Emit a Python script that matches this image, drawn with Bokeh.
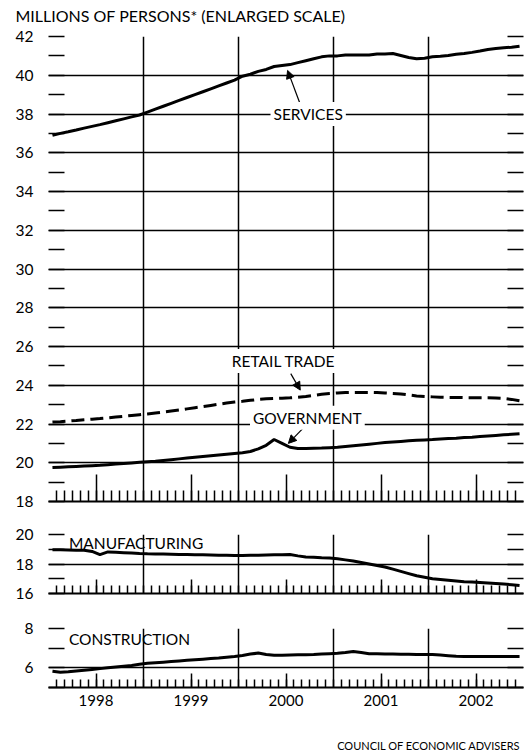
from bokeh.plotting import figure
from bokeh.layouts import column
from bokeh.models import (FixedTicker, LinearAxis, Range1d, Label, Arrow,
                          NormalHead, Grid)
from bokeh.embed import file_html
from bokeh.resources import INLINE

# ---------------- data (monthly, Jan 1998 - Dec 2002, millions of persons) -------------
years = ["1998", "1999", "2000", "2001", "2002"]

services = [36.90, 37.00, 37.08, 37.17, 37.27, 37.36, 37.45, 37.55, 37.65, 37.75, 37.85, 37.95,
            38.10, 38.25, 38.40, 38.55, 38.70, 38.85, 39.00, 39.15, 39.30, 39.45, 39.60, 39.75,
            39.95, 40.05, 40.20, 40.30, 40.45, 40.50, 40.55, 40.65, 40.75, 40.85, 40.95, 41.00,
            41.00, 41.05, 41.05, 41.05, 41.05, 41.10, 41.10, 41.12, 41.02, 40.92, 40.85, 40.88,
            40.95, 40.98, 41.02, 41.08, 41.12, 41.18, 41.25, 41.33, 41.38, 41.42, 41.45, 41.50]

retail_trade = [22.10, 22.12, 22.15, 22.18, 22.22, 22.25, 22.28, 22.32, 22.36, 22.40, 22.44, 22.48,
                22.52, 22.57, 22.62, 22.67, 22.72, 22.78, 22.84, 22.90, 22.96, 23.02, 23.08, 23.13,
                23.17, 23.22, 23.27, 23.30, 23.32, 23.33, 23.35, 23.38, 23.42, 23.47, 23.53, 23.57,
                23.60, 23.62, 23.63, 23.63, 23.63, 23.62, 23.60, 23.58, 23.55, 23.50, 23.45, 23.42,
                23.40, 23.38, 23.37, 23.37, 23.36, 23.36, 23.35, 23.35, 23.34, 23.32, 23.27, 23.20]

government = [19.75, 19.77, 19.79, 19.81, 19.83, 19.85, 19.87, 19.90, 19.93, 19.96, 19.99, 20.02,
              20.05, 20.08, 20.12, 20.16, 20.20, 20.24, 20.28, 20.32, 20.36, 20.40, 20.44, 20.48,
              20.52, 20.58, 20.72, 20.90, 21.20, 21.00, 20.80, 20.74, 20.74, 20.75, 20.76, 20.78,
              20.80, 20.84, 20.88, 20.92, 20.96, 21.00, 21.04, 21.07, 21.10, 21.13, 21.16, 21.18,
              21.20, 21.23, 21.25, 21.27, 21.30, 21.32, 21.35, 21.38, 21.41, 21.44, 21.47, 21.50]

manufacturing = [18.96, 18.96, 18.95, 18.94, 18.93, 18.85, 18.64, 18.82, 18.80, 18.77, 18.74, 18.71,
                 18.69, 18.68, 18.67, 18.66, 18.65, 18.64, 18.63, 18.62, 18.61, 18.60, 18.59, 18.58,
                 18.58, 18.59, 18.60, 18.61, 18.62, 18.63, 18.64, 18.55, 18.48, 18.45, 18.42, 18.40,
                 18.35, 18.28, 18.20, 18.10, 18.00, 17.90, 17.80, 17.65, 17.50, 17.35, 17.20, 17.10,
                 17.00, 16.95, 16.90, 16.85, 16.80, 16.78, 16.75, 16.72, 16.68, 16.64, 16.60, 16.55]

construction = [5.83, 5.78, 5.80, 5.84, 5.88, 5.92, 5.96, 6.00, 6.04, 6.08, 6.12, 6.18,
                6.23, 6.26, 6.29, 6.32, 6.35, 6.38, 6.41, 6.44, 6.47, 6.50, 6.54, 6.58,
                6.63, 6.70, 6.75, 6.68, 6.64, 6.64, 6.65, 6.66, 6.67, 6.68, 6.70, 6.72,
                6.74, 6.78, 6.83, 6.78, 6.72, 6.71, 6.70, 6.70, 6.69, 6.69, 6.68, 6.68,
                6.68, 6.65, 6.62, 6.59, 6.58, 6.58, 6.57, 6.57, 6.57, 6.58, 6.58, 6.58]

months = [i + 0.5 for i in range(60)]

FONT = "Lato"
W = 528


def text_strip(height):
    # a plain strip (frame = whole figure, pixel-like coordinates) for heading / source text
    p = figure(width=W, height=height, x_range=Range1d(0, W), y_range=Range1d(0, height),
               output_backend="svg", toolbar_location=None,
               x_axis_type=None, y_axis_type=None, min_border=0,
               min_border_left=0, min_border_right=0,
               min_border_top=0, min_border_bottom=0)
    p.frame_align = False
    p.outline_line_color = None
    p.background_fill_color = "white"
    p.border_fill_color = "white"
    return p


def make_panel(height, ylo, yhi, btop, bbot, year_labels=False):
    p = figure(width=W, height=height, x_range=Range1d(0, 60), y_range=Range1d(ylo, yhi),
               output_backend="svg", toolbar_location=None,
               x_axis_type=None, y_axis_type=None,
               min_border_left=48, min_border_right=5,
               min_border_top=btop, min_border_bottom=bbot)
    p.outline_line_color = None
    p.background_fill_color = "white"
    p.border_fill_color = "white"

    ints = list(range(ylo, yhi + 1))
    overrides = {t: (str(t) if t % 2 == 0 else "") for t in ints}
    left = LinearAxis(ticker=FixedTicker(ticks=ints), major_label_overrides=overrides,
                      axis_line_color=None, major_tick_in=16, major_tick_out=0,
                      major_tick_line_width=1.5, major_tick_line_color="black",
                      minor_tick_line_color=None, major_label_standoff=15,
                      major_label_text_font=FONT, major_label_text_font_size="15.5px",
                      major_label_text_color="black")
    p.add_layout(left, "left")
    right = LinearAxis(ticker=FixedTicker(ticks=ints),
                       major_label_overrides={t: "" for t in ints},
                       axis_line_color=None, major_tick_in=16, major_tick_out=0,
                       major_tick_line_width=1.5, major_tick_line_color="black",
                       minor_tick_line_color=None, major_label_standoff=0,
                       major_label_text_font_size="1px")
    p.add_layout(right, "right")

    mids = [6, 18, 30, 42, 54]
    big = height > 200
    bottom = LinearAxis(ticker=FixedTicker(ticks=mids, minor_ticks=list(range(1, 60))),
                        axis_line_width=2, axis_line_color="black",
                        major_tick_in=27 if big else 14, major_tick_out=0,
                        major_tick_line_width=1.5,
                        minor_tick_in=11 if big else 8, minor_tick_out=0,
                        minor_tick_line_width=1.5, minor_tick_line_color="black",
                        major_label_text_font=FONT, major_label_text_font_size="15px",
                        major_label_text_color="black", major_label_standoff=7)
    if year_labels:
        bottom.major_label_overrides = {m: y for m, y in zip(mids, years)}
    else:
        bottom.major_label_overrides = {m: "" for m in mids}
        bottom.major_label_text_font_size = "1px"
        bottom.major_label_standoff = 0
    p.add_layout(bottom, "below")

    p.add_layout(Grid(dimension=0, ticker=FixedTicker(ticks=[0, 12, 24, 36, 48]),
                      grid_line_color="black", grid_line_width=1.5))
    p.add_layout(Grid(dimension=1, ticker=FixedTicker(ticks=[t for t in ints if t % 2 == 0]),
                      grid_line_color="black", grid_line_width=1.5))
    return p


def add_label(p, text, x, y, align="center", bg=True, size="15.5px"):
    p.add_layout(Label(x=x, y=y, text=text, text_align=align, text_baseline="middle",
                       text_font=FONT, text_font_size=size, text_color="black",
                       background_fill_color="white" if bg else None, padding=3))


def add_arrow(p, xs, ys, xe, ye):
    p.add_layout(Arrow(end=NormalHead(size=8, fill_color="black", line_color="black"),
                       x_start=xs, y_start=ys, x_end=xe, y_end=ye,
                       line_color="black", line_width=1.2))


# ---------------- heading ----------------
p0 = text_strip(26)
add_label(p0, "MILLIONS OF PERSONS*  (ENLARGED SCALE)", 12, 11, align="left", bg=False,
          size="16px")

# ---------------- top panel ----------------
p1 = make_panel(495, 18, 42, 10, 20)
p1.line(months, services, line_color="black", line_width=3)
p1.line(months, retail_trade, line_color="black", line_width=3, line_dash="13 6")
p1.line(months, government, line_color="black", line_width=3)
add_arrow(p1, 31.8, 38.5, 30.2, 40.25)
add_label(p1, "SERVICES", 32.8, 38)
add_arrow(p1, 30.6, 24.6, 31.8, 23.75)
add_label(p1, "RETAIL TRADE", 29.7, 25.25)
add_arrow(p1, 32.2, 21.8, 30.3, 21.0)
add_label(p1, "GOVERNMENT", 32.7, 22.32)

# ---------------- middle panel ----------------
p2 = make_panel(90, 16, 20, 13, 18)
p2.line(months, manufacturing, line_color="black", line_width=3)
add_label(p2, "MANUFACTURING", 2.2, 19.45, align="left", bg=False)

# ---------------- bottom panel ----------------
p3 = make_panel(116, 5, 8, 17, 40, year_labels=True)
p3.line(months, construction, line_color="black", line_width=3)
add_label(p3, "CONSTRUCTION", 2.2, 7.45, align="left", bg=False)

# ---------------- source line ----------------
p4 = text_strip(25)
add_label(p4, "COUNCIL OF ECONOMIC ADVISERS", 523, 7, align="right", bg=False, size="11px")

layout = column(p0, p1, p2, p3, p4, spacing=0)
open("out.html", "w").write(file_html(layout, INLINE))
